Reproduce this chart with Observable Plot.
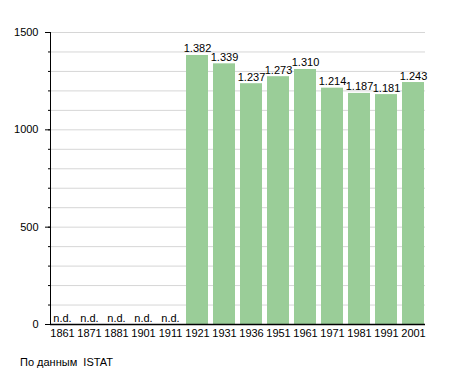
<!DOCTYPE html>
<html><head><meta charset="utf-8">
<script src="https://cdn.jsdelivr.net/npm/d3@7"></script>
<script src="https://cdn.jsdelivr.net/npm/@observablehq/plot@0.6"></script>
<style>
body{margin:0;background:#fff;font-family:"Liberation Sans",Arial,sans-serif;}
#cap{font-size:11px;color:#000;margin:11px 0 0 20px;}
</style></head><body>
<div id="chart"></div>
<div id="cap">По данным&nbsp; ISTAT</div>
<script>
const years = ["1861","1871","1881","1901","1911","1921","1931","1936","1951","1961","1971","1981","1991","2001"];
const population = [null,null,null,null,null,1382,1339,1237,1273,1310,1214,1187,1181,1243];
const majorTicks = [0,500,1000,1500];
const minorTicks = d3.range(0,1501,100);

const data = years.map((y,i)=>({year:y, value:population[i]}));
const fmt = d3.formatLocale({decimal:",", thousands:".", grouping:[3], currency:["","€"]}).format(",d");

const chart = Plot.plot({
  width: 455, height: 345,
  marginLeft: 50, marginRight: 30, marginTop: 32, marginBottom: 21,
  style: {fontFamily: '"Liberation Sans", Arial, sans-serif', fontSize: "11px", color:"#000", background:"#fff"},
  x: {domain: years, paddingInner: 0.2, paddingOuter: 0, align: 0.5, label: null},
  y: {domain: [0,1500], label: null},
  marks: [
    Plot.ruleY(minorTicks.filter(d=>d>0), {stroke:"#d6d6d6", strokeWidth:1}),
    Plot.barY(data.filter(d=>d.value!=null), {x:"year", y:"value", fill:"#9acd98"}),
    Plot.text(data.filter(d=>d.value!=null), {x:"year", y:"value", text: d=>fmt(d.value), lineAnchor:"bottom", dy:-3, fontSize:11, fill:"#000"}),
    Plot.text(data.filter(d=>d.value==null), {x:"year", y:0, text: ()=>"n.d.", lineAnchor:"bottom", dy:-3, fontSize:11, fill:"#000"}),
    Plot.axisY(minorTicks, {tickSize:2, tickFormat:()=>"", stroke:"#000"}),
    Plot.axisY(majorTicks, {tickSize:5, tickPadding:7, tickFormat:"d", stroke:"#000", fontSize:11}),
    Plot.axisX({tickSize:0, tickPadding:5, fontSize:11}),
    Plot.frame({anchor:"left", stroke:"#000"}),
    Plot.ruleY([0], {stroke:"#000", strokeWidth:1.5})
  ]
});
document.getElementById("chart").appendChild(chart);
</script>
</body></html>
